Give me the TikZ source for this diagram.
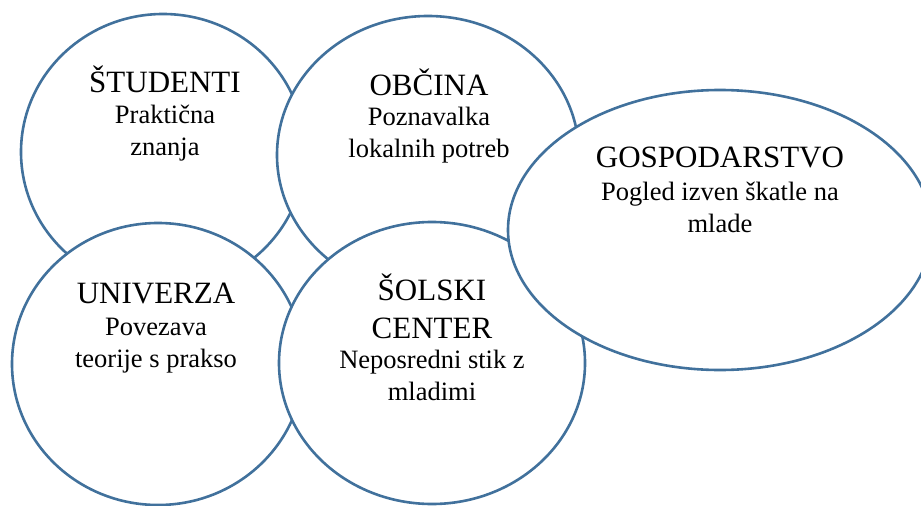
\documentclass[tikz,border=0pt]{standalone}
\usepackage{fontspec}
\setmainfont{Liberation Serif}
\usetikzlibrary{shapes.geometric}
\definecolor{ringblue}{RGB}{65,113,156}
\begin{document}
\begin{tikzpicture}[
    x=1pt, y=-1pt,
    area/.style={
        ellipse,
        draw=ringblue,
        line width=2.6pt,
        fill=white,
        inner sep=0pt,
    },
    heading/.style={
        anchor=base, align=center, inner sep=0pt,
        font=\fontsize{31}{38}\selectfont,
    },
    subline/.style={
        anchor=base, align=center, inner sep=0pt,
        font=\fontsize{26.5}{32}\selectfont,
    },
    % every node/.style={draw=red},
    ]
    \useasboundingbox (0,0) rectangle (921,506);
    \clip (0,0) rectangle (921,506);
    \node [area, minimum width=284pt, minimum height=276pt] (studenti) at (163,152) {};
    \node [area, minimum width=302pt, minimum height=278pt] (obcina) at (428,155) {};
    \node [area, minimum width=292pt, minimum height=282pt] (univerza) at (158,364) {};
    \node [area, minimum width=306pt, minimum height=282pt] (solski) at (432,363) {};
    \node [area, minimum width=424pt, minimum height=280pt] (gospodarstvo) at (720,230) {};

    % multi-line nodes sit on the baseline of their last line
    \node [heading] (studenti-h) at (165,92) {ŠTUDENTI};
    \node [subline] (studenti-s) at (165,155) {Praktična\\znanja};
    \node [heading] (obcina-h) at (429,95) {OBČINA};
    \node [subline] (obcina-s) at (429,157) {Poznavalka\\lokalnih potreb};
    \node [heading] (gospodarstvo-h) at (720,167) {GOSPODARSTVO};
    \node [subline] (gospodarstvo-s) at (720,232) {Pogled izven škatle na\\mlade};
    \node [heading] (univerza-h) at (156,303) {UNIVERZA};
    \node [subline] (univerza-s) at (156,367) {Povezava\\teorije s prakso};
    \node [heading] (solski-h) at (432,338) {ŠOLSKI\\CENTER};
    \node [subline] (solski-s) at (432,400) {Neposredni stik z\\mladimi};
\end{tikzpicture}
\end{document}
